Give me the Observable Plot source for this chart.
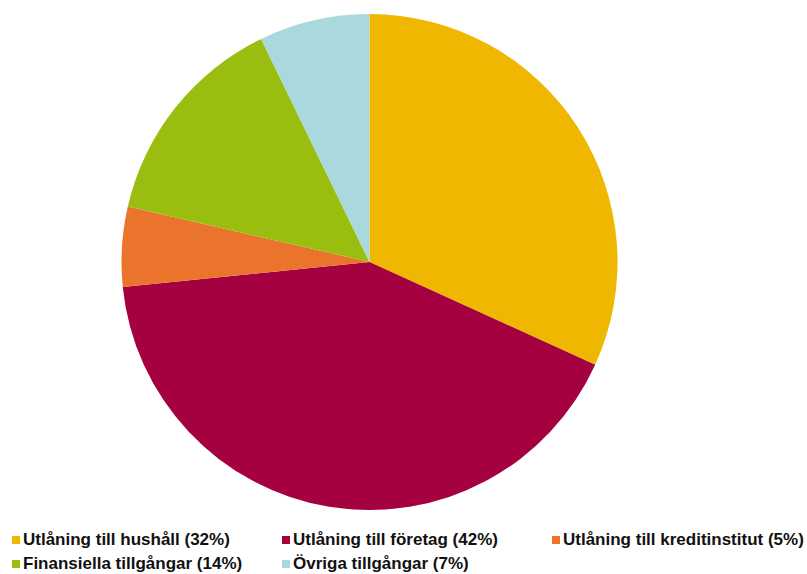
<!DOCTYPE html>
<html>
<head>
<meta charset="utf-8">
<script src="https://cdn.jsdelivr.net/npm/d3@7"></script>
<script src="https://cdn.jsdelivr.net/npm/@observablehq/plot@0.6"></script>
<style>
  html, body { margin: 0; padding: 0; background: #fff; }
  #chart { width: 807px; height: 525px; }
  .legend { position: relative; width: 807px; height: 49px; font-family: "Liberation Sans", Arial, sans-serif; font-weight: bold; font-size: 17px; color: #111; }
  .item { position: absolute; white-space: nowrap; line-height: 20px; }
  .sw { position: absolute; width: 8px; height: 8px; }
</style>
</head>
<body>
<div id="chart"></div>
<div class="legend" id="legend"></div>
<script>
const categories = [
  "Utlåning till hushåll",
  "Utlåning till företag",
  "Utlåning till kreditinstitut",
  "Finansiella tillgångar",
  "Övriga tillgångar"
];
const values = [31.8, 41.6, 5.2, 14.2, 7.2];
const labels = ["32%", "42%", "5%", "14%", "7%"];
const colors = ["#F0B700", "#A5003F", "#EB742D", "#9ABE0F", "#A9D9DC"];

const data = categories.map((c, i) => ({category: c, value: values[i], label: labels[i]}));

const color = Plot.scale({color: {type: "ordinal", domain: categories, range: colors}});

const W = 807, H = 525;
const cx = 369.5, cy = 262, R = 248;

const pieMark = (index, scales, vals, dimensions) => {
  const pie = d3.pie().value(d => d.value).sort(null);
  const arc = d3.arc().innerRadius(0).outerRadius(R);
  const g = d3.create("svg:g").attr("transform", `translate(${cx},${cy})`);
  g.selectAll("path")
    .data(pie(data))
    .join("path")
    .attr("d", arc)
    .attr("fill", d => color.apply(d.data.category));
  return g.node();
};

const chart = Plot.plot({
  width: W,
  height: H,
  margin: 0,
  x: {axis: null},
  y: {axis: null},
  marks: [pieMark]
});
document.getElementById("chart").appendChild(chart);

const legend = document.getElementById("legend");
const pos = [[12, 11], [282, 11], [552, 11], [12, 35], [282, 35]];
data.forEach((d, i) => {
  const sw = document.createElement("div");
  sw.className = "sw";
  sw.style.left = pos[i][0] + "px";
  sw.style.top = pos[i][1] + "px";
  sw.style.background = color.apply(d.category);
  legend.appendChild(sw);
  const el = document.createElement("div");
  el.className = "item";
  el.style.left = (pos[i][0] + 11) + "px";
  el.style.top = (pos[i][1] - 6) + "px";
  el.textContent = `${d.category} (${d.label})`;
  legend.appendChild(el);
});
</script>
</body>
</html>
